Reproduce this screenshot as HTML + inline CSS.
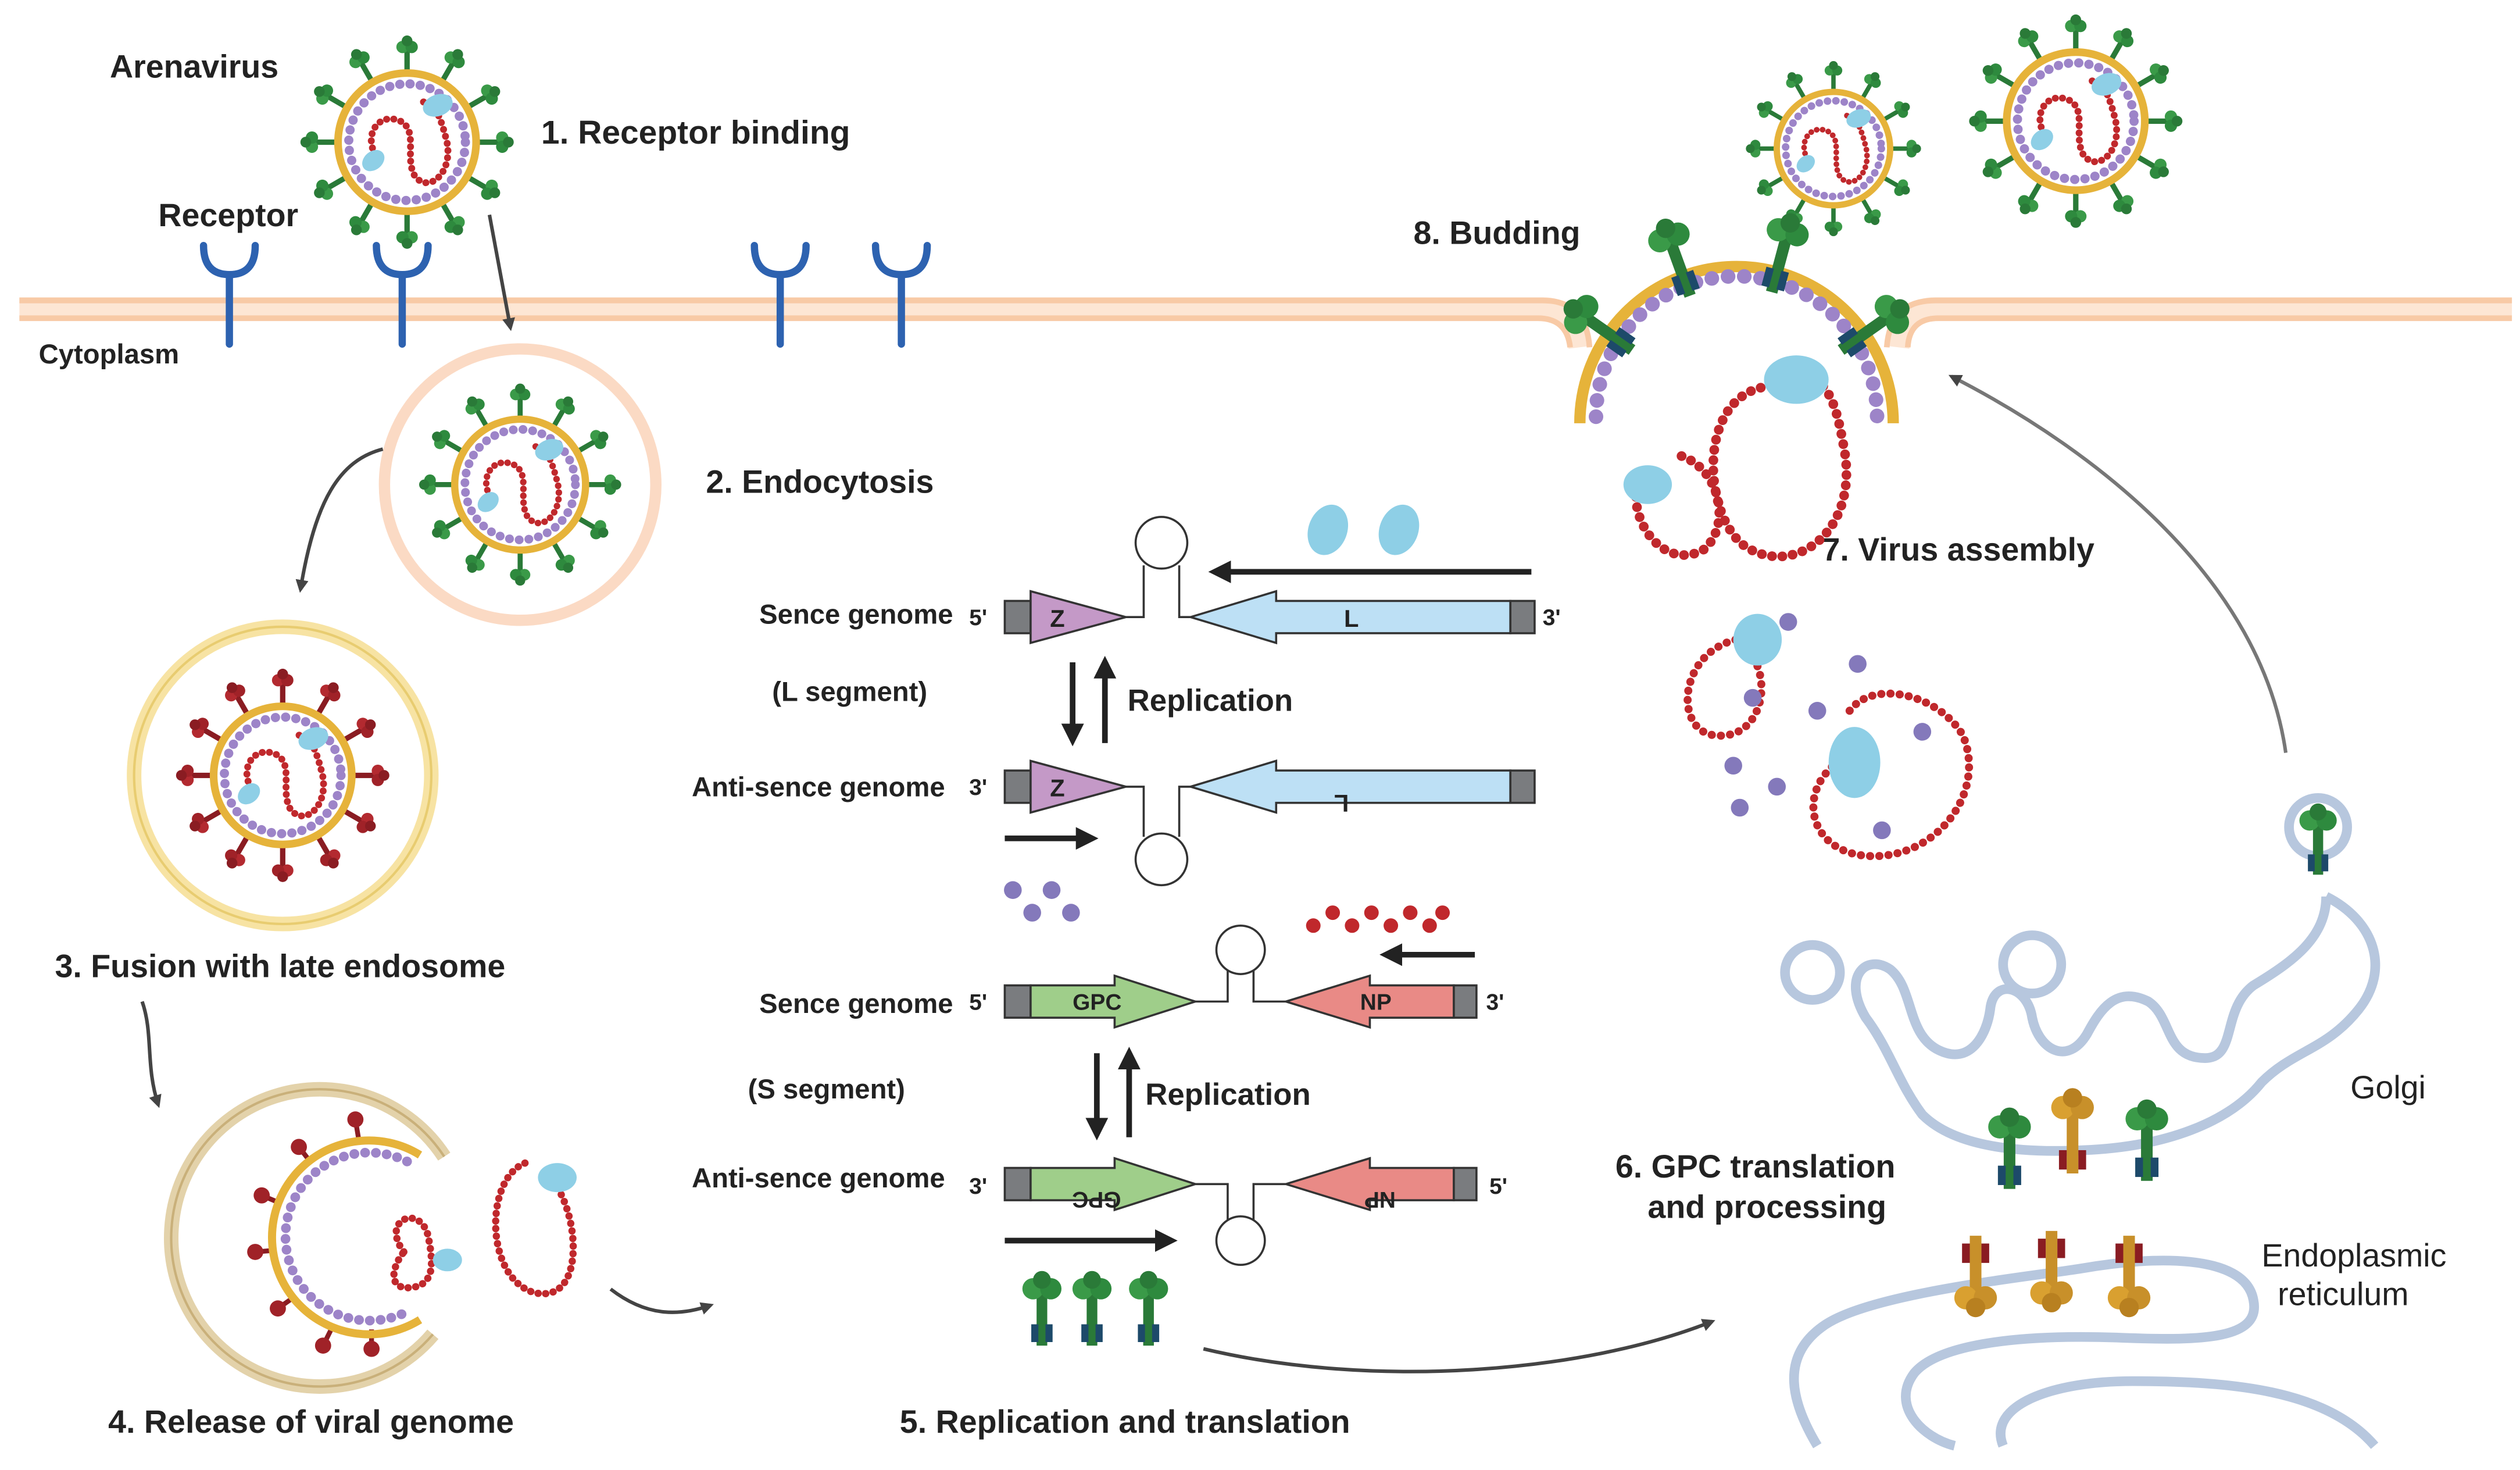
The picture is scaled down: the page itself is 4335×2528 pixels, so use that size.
<!DOCTYPE html>
<html><head><meta charset="utf-8"><style>
html,body{margin:0;padding:0;background:#fff;}
svg{display:block;}
text{font-family:"Liberation Sans",sans-serif;font-weight:bold;fill:#222;}
</style></head><body>
<svg width="4335" height="2528" viewBox="0 0 1560 910" preserveAspectRatio="none" xmlns="http://www.w3.org/2000/svg">
<defs>
<g id="core">
  <circle r="45" fill="#fff" stroke="#e6b33a" stroke-width="5"/>
  <circle r="38" fill="none" stroke="#9d84c8" stroke-width="6" stroke-dasharray="0.1 6.6" stroke-linecap="round"/>
  <path d="M-18,12 C-30,-2 -20,-20 -5,-14 C8,-8 -2,10 5,22 C14,34 30,20 26,0 C22,-16 18,-28 8,-26" fill="none" stroke="#c0282c" stroke-width="4.5" stroke-dasharray="0.1 4.6" stroke-linecap="round"/>
  <ellipse cx="20" cy="-24" rx="10" ry="7" fill="#8ecfe6" transform="rotate(-20 20 -24)"/>
  <ellipse cx="-22" cy="12" rx="8" ry="6" fill="#8ecfe6" transform="rotate(-40 -22 12)"/>
</g>
<g id="spk"><line x1="0" y1="-46" x2="0" y2="-60" stroke="#2a7a38" stroke-width="3.5"/><circle cx="-3" cy="-62" r="4" fill="#3a9a48"/><circle cx="3" cy="-62" r="4" fill="#2e8a3e"/><circle cx="0" cy="-66" r="3.5" fill="#2a7a38"/></g>
<g id="spkR"><line x1="0" y1="-46" x2="0" y2="-60" stroke="#8a1c22" stroke-width="3.5"/><circle cx="-3" cy="-62" r="4" fill="#b32a30"/><circle cx="3" cy="-62" r="4" fill="#a02228"/><circle cx="0" cy="-66" r="3.5" fill="#8a1c22"/></g>
<g id="spikes"><use href="#spk"/><use href="#spk" transform="rotate(30)"/><use href="#spk" transform="rotate(60)"/><use href="#spk" transform="rotate(90)"/><use href="#spk" transform="rotate(120)"/><use href="#spk" transform="rotate(150)"/><use href="#spk" transform="rotate(180)"/><use href="#spk" transform="rotate(210)"/><use href="#spk" transform="rotate(240)"/><use href="#spk" transform="rotate(270)"/><use href="#spk" transform="rotate(300)"/><use href="#spk" transform="rotate(330)"/></g>
<g id="spikesR"><use href="#spkR"/><use href="#spkR" transform="rotate(30)"/><use href="#spkR" transform="rotate(60)"/><use href="#spkR" transform="rotate(90)"/><use href="#spkR" transform="rotate(120)"/><use href="#spkR" transform="rotate(150)"/><use href="#spkR" transform="rotate(180)"/><use href="#spkR" transform="rotate(210)"/><use href="#spkR" transform="rotate(240)"/><use href="#spkR" transform="rotate(270)"/><use href="#spkR" transform="rotate(300)"/><use href="#spkR" transform="rotate(330)"/></g>
<g id="virus"><use href="#spikes"/><use href="#core"/></g>
<g id="gp"><line x1="0" y1="0" x2="0" y2="30" stroke="#2a7a38" stroke-width="6"/><rect x="-6" y="18" width="4" height="10" fill="#1d4a6a"/><rect x="2" y="18" width="4" height="10" fill="#1d4a6a"/><circle cx="-5" cy="-2" r="6" fill="#3a9a48"/><circle cx="5" cy="-2" r="6" fill="#2e8a3e"/><circle cx="0" cy="-7" r="5" fill="#2a7a38"/></g>
<g id="gpo"><line x1="0" y1="0" x2="0" y2="30" stroke="#c8902a" stroke-width="6"/><rect x="-7" y="4" width="4" height="10" fill="#8a1c22"/><rect x="3" y="4" width="4" height="10" fill="#8a1c22"/><circle cx="-5" cy="32" r="6" fill="#d9a030"/><circle cx="5" cy="32" r="6" fill="#c8902a"/><circle cx="0" cy="37" r="5" fill="#b88020"/></g>
<marker id="ah" markerWidth="8" markerHeight="8" refX="6" refY="4" orient="auto" markerUnits="userSpaceOnUse"><path d="M0,0 L8,4 L0,8 z" fill="#444"/></marker>
<marker id="ahb" markerWidth="14" markerHeight="14" refX="10" refY="7" orient="auto" markerUnits="userSpaceOnUse"><path d="M0,0 L14,7 L0,14 z" fill="#222"/></marker>
</defs>

<!-- membrane -->
<g fill="none" stroke-linecap="butt">
<path d="M12,191 H955 Q975,191 978,215" stroke="#fde6d4" stroke-width="14"/>
<path d="M12,186 H955 Q982,186 984,215" stroke="#f8caa6" stroke-width="3.5"/>
<path d="M12,197 H952 Q970,197 972,215" stroke="#f8caa6" stroke-width="3.5"/>
<path d="M1555,191 H1198 Q1178,191 1175,215" stroke="#fde6d4" stroke-width="14"/>
<path d="M1555,186 H1198 Q1170,186 1168,215" stroke="#f8caa6" stroke-width="3.5"/>
<path d="M1555,197 H1200 Q1182,197 1181,215" stroke="#f8caa6" stroke-width="3.5"/>
</g>
<!-- receptors -->
<g fill="none" stroke="#2d62b0" stroke-width="4.5" stroke-linecap="round">
<path d="M142,213 V170 M126,152 Q126,170 142,170 Q158,170 158,152"/>
<path d="M249,213 V170 M233,152 Q233,170 249,170 Q265,170 265,152"/>
<path d="M483,213 V170 M467,152 Q467,170 483,170 Q499,170 499,152"/>
<path d="M558,213 V170 M542,152 Q542,170 558,170 Q574,170 574,152"/>
</g>

<!-- texts -->
<text x="68" y="48" font-size="20">Arenavirus</text>
<text x="335" y="89" font-size="20.5">1.  Receptor binding</text>
<text x="98" y="140" font-size="20">Receptor</text>
<text x="24" y="225" font-size="17">Cytoplasm</text>
<text x="437" y="305" font-size="20">2. Endocytosis</text>
<text x="34" y="605" font-size="20">3. Fusion with late endosome</text>
<text x="67" y="887" font-size="20">4. Release of viral genome</text>
<text x="557" y="887" font-size="20">5. Replication and translation</text>
<text x="1000" y="729" font-size="20">6. GPC translation</text>
<text x="1020" y="754" font-size="20">and processing</text>
<text x="1128" y="347" font-size="20">7. Virus assembly</text>
<text x="875" y="151" font-size="20">8. Budding</text>
<text x="1455" y="680" font-size="20" style="font-weight:normal">Golgi</text>
<text x="1400" y="784" font-size="20" style="font-weight:normal">Endoplasmic</text>
<text x="1410" y="808" font-size="20" style="font-weight:normal">reticulum</text>

<!-- viruses -->
<use href="#virus" transform="translate(252,88) scale(0.95)"/>
<circle cx="322" cy="300" r="84" fill="#fff" stroke="#fbdac4" stroke-width="7"/>
<use href="#virus" transform="translate(322,300) scale(0.9)"/>
<circle cx="175" cy="480" r="92" fill="#fff" stroke="#f7e3a3" stroke-width="9"/>
<circle cx="175" cy="480" r="92" fill="none" stroke="#e8cc70" stroke-width="1.5"/>
<g transform="translate(175,480) scale(0.95)"><use href="#spikesR"/><use href="#core"/></g>
<!-- 4 -->
<path d="M275,716 A92,92 0 1 0 268,826" fill="none" stroke="#e3d2aa" stroke-width="9"/>
<path d="M275,716 A92,92 0 1 0 268,826" fill="none" stroke="#c9b07a" stroke-width="1.5"/>
<g transform="translate(230,765)">
<g stroke="#8a1c22" stroke-width="3">
<line x1="-38" y1="-46" x2="-45" y2="-55"/><line x1="-56" y1="-20" x2="-68" y2="-25"/><line x1="-60" y1="9" x2="-72" y2="10"/><line x1="-48" y1="38" x2="-58" y2="45"/><line x1="-24" y1="56" x2="-30" y2="68"/><line x1="-8" y1="-60" x2="-10" y2="-72"/><line x1="0" y1="58" x2="0" y2="70"/></g>
<path d="M30,-50 A60,60 0 1 0 30,52" fill="none" stroke="#e6b33a" stroke-width="5"/>
<path d="M22,-46 A52,52 0 1 0 22,47" fill="none" stroke="#9d84c8" stroke-width="6" stroke-dasharray="0.1 6.6" stroke-linecap="round"/>
<g fill="#a02228">
<circle cx="-45" cy="-55" r="5"/><circle cx="-68" cy="-25" r="5"/><circle cx="-72" cy="10" r="5"/><circle cx="-58" cy="45" r="5"/><circle cx="-30" cy="68" r="5"/><circle cx="-10" cy="-72" r="5"/><circle cx="0" cy="70" r="5"/></g>
<path d="M20,10 C5,-10 30,-20 35,0 C38,15 40,30 25,32 C10,34 12,20 20,10" fill="none" stroke="#c0282c" stroke-width="4.5" stroke-dasharray="0.1 4.6" stroke-linecap="round"/>
<ellipse cx="47" cy="15" rx="9" ry="7" fill="#8ecfe6"/>
</g>
<path d="M325,720 C300,730 300,790 330,800 C360,808 360,760 345,735" fill="none" stroke="#c0282c" stroke-width="4.5" stroke-dasharray="0.1 4.6" stroke-linecap="round"/>
<ellipse cx="345" cy="729" rx="12" ry="9" fill="#8ecfe6"/>

<use href="#virus" transform="translate(1135,92) scale(0.78)"/>
<use href="#virus" transform="translate(1285,75) scale(0.95)"/>

<!-- budding -->
<path d="M978,262 A97,97 0 0 1 1172,262" fill="none" stroke="#e6b33a" stroke-width="7"/>
<path d="M988,258 A87,87 0 0 1 1162,258" fill="none" stroke="#9d84c8" stroke-width="9" stroke-dasharray="0.1 10" stroke-linecap="round"/>
<g transform="translate(1075,262)">
<use href="#gp" transform="rotate(-20) translate(0,-120) scale(1.2)"/>
<use href="#gp" transform="rotate(15) translate(0,-120) scale(1.2)"/>
<use href="#gp" transform="rotate(-55) translate(0,-115) scale(1.2)"/>
<use href="#gp" transform="rotate(55) translate(0,-115) scale(1.2)"/>
</g>
<path d="M1090,240 C1050,250 1055,320 1080,338 C1110,358 1150,330 1142,280 C1138,258 1135,240 1120,232" fill="none" stroke="#c0282c" stroke-width="6" stroke-dasharray="0.1 6.3" stroke-linecap="round"/>
<path d="M1015,295 C1005,320 1030,355 1055,340 C1072,325 1065,290 1040,282" fill="none" stroke="#c0282c" stroke-width="6" stroke-dasharray="0.1 6.3" stroke-linecap="round"/>
<ellipse cx="1112" cy="235" rx="20" ry="15" fill="#8ecfe6"/>
<ellipse cx="1020" cy="300" rx="15" ry="12" fill="#8ecfe6"/>

<!-- assembly components -->
<path d="M1080,395 C1040,400 1035,450 1060,455 C1090,460 1100,420 1080,400" fill="none" stroke="#c0282c" stroke-width="5" stroke-dasharray="0.1 5.6" stroke-linecap="round"/>
<path d="M1145,440 C1160,420 1200,430 1215,455 C1230,490 1200,530 1160,530 C1120,530 1110,490 1140,470" fill="none" stroke="#c0282c" stroke-width="5" stroke-dasharray="0.1 5.6" stroke-linecap="round"/>
<ellipse cx="1088" cy="396" rx="15" ry="16" fill="#8ecfe6"/>
<ellipse cx="1148" cy="472" rx="16" ry="22" fill="#8ecfe6"/>
<g fill="#8479bb"><circle cx="1107" cy="385" r="5.5"/><circle cx="1085" cy="432" r="5.5"/><circle cx="1125" cy="440" r="5.5"/><circle cx="1150" cy="411" r="5.5"/><circle cx="1190" cy="453" r="5.5"/><circle cx="1073" cy="474" r="5.5"/><circle cx="1100" cy="487" r="5.5"/><circle cx="1077" cy="500" r="5.5"/><circle cx="1165" cy="514" r="5.5"/></g>

<!-- curved arrows -->
<g fill="none" stroke="#444" stroke-width="2.2" marker-end="url(#ah)">
<path d="M303,133 L316,203"/>
<path d="M237,278 C210,285 195,310 186,365"/>
<path d="M88,620 C95,640 90,660 98,684"/>
<path d="M378,798 C400,815 420,815 440,808"/>
<path d="M745,835 C850,860 980,850 1060,818"/>
<path d="M1415,466 C1400,360 1300,280 1208,233" stroke="#777"/>
</g>

<!-- L segment -->
<g stroke="#333" stroke-width="1.3">
<rect x="622" y="372" width="16" height="20" fill="#7a7c7f"/>
<path d="M638,366 L697,382 L638,398 z" fill="#c499c7"/>
<path d="M697,382 H708 V350 M730,350 V382 H737" fill="none"/>
<circle cx="719" cy="336" r="16" fill="#fff"/>
<path d="M737,382 L790,366 V372 H935 V392 H790 V398 z" fill="#bde0f5"/>
<rect x="935" y="372" width="15" height="20" fill="#7a7c7f"/>
<rect x="622" y="477" width="16" height="20" fill="#7a7c7f"/>
<path d="M638,471 L697,487 L638,503 z" fill="#c499c7"/>
<path d="M697,487 H708 V518 M730,518 V487 H737" fill="none"/>
<circle cx="719" cy="532" r="16" fill="#fff"/>
<path d="M737,487 L790,471 V477 H935 V497 H790 V503 z" fill="#bde0f5"/>
<rect x="935" y="477" width="15" height="20" fill="#7a7c7f"/>
</g>
<g font-size="15"><text x="650" y="388">Z</text><text x="832" y="388">L</text><text x="650" y="493">Z</text><text x="845" y="482" transform="rotate(180 840 487)">L</text></g>
<g font-size="14"><text x="600" y="387">5'</text><text x="955" y="387">3'</text><text x="600" y="492">3'</text></g>
<g stroke="#222" stroke-width="3.5" marker-end="url(#ahb)">
<line x1="948" y1="354" x2="752" y2="354"/>
<line x1="622" y1="519" x2="676" y2="519"/>
<line x1="664" y1="410" x2="664" y2="458"/>
<line x1="684" y1="460" x2="684" y2="410"/>
<line x1="679" y1="652" x2="679" y2="702"/>
<line x1="699" y1="704" x2="699" y2="652"/>
<line x1="622" y1="768" x2="725" y2="768"/>
<line x1="913" y1="591" x2="858" y2="591"/>
</g>
<text x="698" y="440" font-size="19">Replication</text>
<text x="709" y="684" font-size="19">Replication</text>
<g font-size="17">
<text x="590" y="386" text-anchor="end">Sence genome</text>
<text x="478" y="434">(L segment)</text>
<text x="585" y="493" text-anchor="end">Anti-sence genome</text>
<text x="590" y="627" text-anchor="end">Sence genome</text>
<text x="463" y="680">(S segment)</text>
<text x="585" y="735" text-anchor="end">Anti-sence genome</text>
</g>
<g fill="#8ecfe6"><ellipse cx="822" cy="328" rx="12" ry="16" transform="rotate(20 822 328)"/><ellipse cx="866" cy="328" rx="12" ry="16" transform="rotate(20 866 328)"/></g>
<g fill="#8479bb"><circle cx="627" cy="551" r="5.5"/><circle cx="651" cy="551" r="5.5"/><circle cx="639" cy="565" r="5.5"/><circle cx="663" cy="565" r="5.5"/></g>
<g fill="#c0282c"><circle cx="813" cy="573" r="4.5"/><circle cx="825" cy="565" r="4.5"/><circle cx="837" cy="573" r="4.5"/><circle cx="849" cy="565" r="4.5"/><circle cx="861" cy="573" r="4.5"/><circle cx="873" cy="565" r="4.5"/><circle cx="885" cy="573" r="4.5"/><circle cx="893" cy="565" r="4.5"/></g>

<!-- S segment -->
<g stroke="#333" stroke-width="1.3">
<rect x="622" y="610" width="16" height="20" fill="#7a7c7f"/>
<path d="M638,610 H690 V604 L740,620 L690,636 V630 H638 z" fill="#9fce8a"/>
<path d="M740,620 H760 V600 M776,600 V620 H796" fill="none"/>
<circle cx="768" cy="588" r="15" fill="#fff"/>
<path d="M796,620 L848,604 V610 H900 V630 H848 V636 z" fill="#e98a86"/>
<rect x="900" y="610" width="14" height="20" fill="#7a7c7f"/>
<rect x="622" y="723" width="16" height="20" fill="#7a7c7f"/>
<path d="M638,723 H690 V717 L740,733 L690,749 V743 H638 z" fill="#9fce8a"/>
<path d="M740,733 H760 V755 M776,755 V733 H796" fill="none"/>
<circle cx="768" cy="768" r="15" fill="#fff"/>
<path d="M796,733 L848,717 V723 H900 V743 H848 V749 z" fill="#e98a86"/>
<rect x="900" y="723" width="14" height="20" fill="#7a7c7f"/>
</g>
<g font-size="14"><text x="664" y="625">GPC</text><text x="842" y="625">NP</text>
<text x="664" y="728" transform="rotate(180 679 733)">GPC</text><text x="842" y="728" transform="rotate(180 853 733)">NP</text>
<text x="600" y="625">5'</text><text x="920" y="625">3'</text><text x="600" y="739">3'</text><text x="922" y="739">5'</text></g>
<use href="#gp" transform="translate(645,800) scale(1.1)"/>
<use href="#gp" transform="translate(676,800) scale(1.1)"/>
<use href="#gp" transform="translate(711,800) scale(1.1)"/>

<!-- Golgi -->
<g fill="none" stroke="#b7c7de" stroke-width="6">
<circle cx="1122" cy="602" r="17"/>
<circle cx="1258" cy="597" r="18"/>
<circle cx="1435" cy="512" r="18"/>
<path d="M1440,555 C1470,570 1480,600 1460,625 C1440,650 1420,650 1400,670 C1380,695 1340,710 1290,712 C1250,714 1210,710 1190,690 C1175,670 1170,650 1155,630 C1140,605 1155,590 1170,600 C1185,612 1180,640 1200,650 C1220,660 1230,640 1232,625 C1234,605 1255,610 1258,630 C1262,650 1280,660 1292,640 C1300,625 1310,610 1330,620 C1345,630 1340,655 1365,655 C1385,655 1375,625 1395,610 C1420,595 1440,580 1440,555"/>
</g>
<g fill="none" stroke="#b7c7de" stroke-width="6">
<path d="M1125,895 C1110,870 1100,840 1130,820 C1160,800 1260,790 1290,785 C1330,778 1390,775 1395,805 C1400,830 1360,830 1310,828 C1250,826 1200,832 1185,850 C1170,870 1190,890 1210,895"/>
<path d="M1240,895 C1230,870 1270,855 1320,855 C1380,855 1440,860 1470,895"/>
</g>
<use href="#gp" transform="translate(1435,510) scale(1.05)"/>
<use href="#gp" transform="translate(1244,700) scale(1.2)"/>
<use href="#gp" transform="translate(1329,695) scale(1.2)"/>
<g transform="translate(1283,688) scale(1.2)"><line x1="0" y1="0" x2="0" y2="32" stroke="#c8902a" stroke-width="6"/><rect x="-7" y="20" width="4" height="10" fill="#8a1c22"/><rect x="3" y="20" width="4" height="10" fill="#8a1c22"/><circle cx="-5" cy="-2" r="6" fill="#d9a030"/><circle cx="5" cy="-2" r="6" fill="#c8902a"/><circle cx="0" cy="-7" r="5" fill="#b88020"/></g>
<use href="#gpo" transform="translate(1223,765) scale(1.2)"/>
<use href="#gpo" transform="translate(1270,762) scale(1.2)"/>
<use href="#gpo" transform="translate(1318,765) scale(1.2)"/>
</svg>
</body></html>
